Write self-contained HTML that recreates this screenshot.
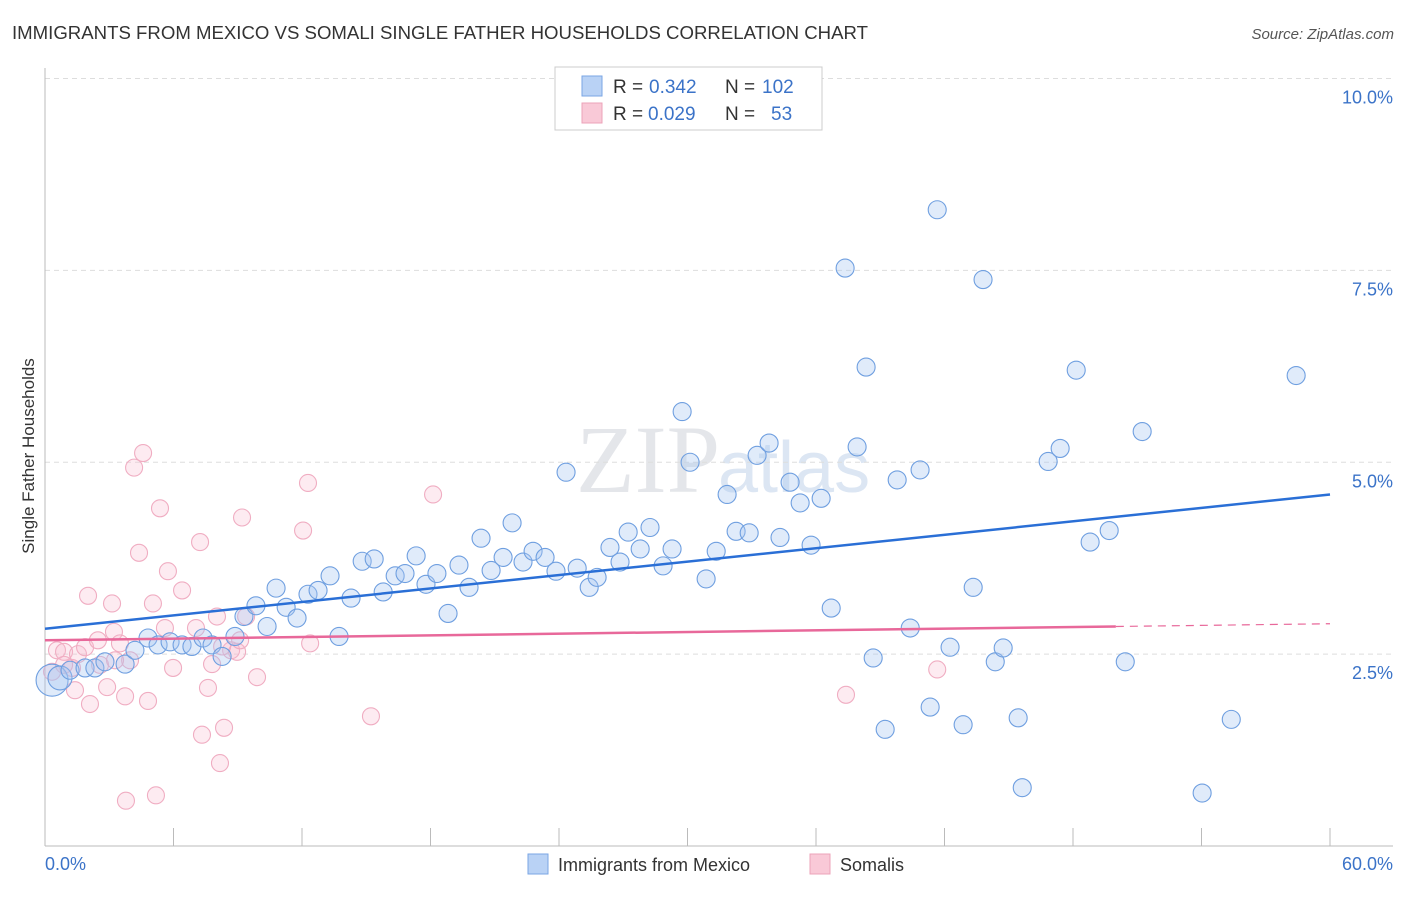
<!DOCTYPE html>
<html><head><meta charset="utf-8"><style>
body{margin:0;background:#fff;font-family:"Liberation Sans",sans-serif;}
</style></head><body>
<svg id="chart" width="1406" height="892" xmlns="http://www.w3.org/2000/svg" font-family="Liberation Sans, sans-serif">
<text x="12" y="39" font-size="18" fill="#333" textLength="856" lengthAdjust="spacingAndGlyphs">IMMIGRANTS FROM MEXICO VS SOMALI SINGLE FATHER HOUSEHOLDS CORRELATION CHART</text>
<text x="1394" y="39" font-size="15" fill="#555" font-style="italic" text-anchor="end">Source: ZipAtlas.com</text>
<text x="34" y="456" font-size="17" fill="#333" text-anchor="middle" transform="rotate(-90 34 456)">Single Father Households</text>
<text x="720" y="492" font-size="96" fill="#e4e6ea" text-anchor="end" font-family="Liberation Serif, serif">ZIP</text>
<text x="718" y="492" font-size="72" fill="#dce6f3">atlas</text>
<g id="grid"></g><g id="pts"></g><g id="lines"></g>
<g>
<rect x="555" y="67" width="267" height="63" fill="#fff" stroke="#ccc"/>
<rect x="582" y="76" width="20" height="20" fill="#b9d2f5" stroke="#7aa6e4"/>
<text x="613" y="93" font-size="19" fill="#333">R =</text>
<text x="649" y="93" font-size="19" fill="#3b73c8">0.342</text>
<text x="725" y="93" font-size="19" fill="#333">N =</text>
<text x="762" y="93" font-size="19" fill="#3b73c8">102</text>
<rect x="582" y="103" width="20" height="20" fill="#f9c9d7" stroke="#eca3b9"/>
<text x="613" y="120" font-size="19" fill="#333">R =</text>
<text x="648" y="120" font-size="19" fill="#3b73c8">0.029</text>
<text x="725" y="120" font-size="19" fill="#333">N =</text>
<text x="771" y="120" font-size="19" fill="#3b73c8">53</text>
</g>
<g>
<rect x="528" y="854" width="20" height="20" fill="#b9d2f5" stroke="#7aa6e4"/>
<text x="558" y="871" font-size="18" fill="#333">Immigrants from Mexico</text>
<rect x="810" y="854" width="20" height="20" fill="#f9c9d7" stroke="#eca3b9"/>
<text x="840" y="871" font-size="18" fill="#333">Somalis</text>
</g>
</svg>
<script>
const yTicks=[2.5,5,7.5,10];
const yTickLabels=["2.5%","5.0%","7.5%","10.0%"];
const xTickLabels=["0.0%","60.0%"];
const blueX=[0.33,0.7,1.17,1.87,2.33,2.8,3.74,4.2,4.81,5.28,5.84,6.4,6.86,7.38,7.8,8.27,8.87,9.29,9.85,10.37,10.79,11.26,11.77,12.28,12.75,13.31,13.73,14.29,14.81,15.37,15.79,16.35,16.81,17.33,17.79,18.3,18.82,19.33,19.8,20.36,20.83,21.39,21.81,22.32,22.79,23.35,23.86,24.33,24.85,25.41,25.78,26.38,26.85,27.23,27.79,28.25,28.86,29.28,29.75,30.12,30.87,31.34,31.85,32.27,32.88,33.25,33.81,34.32,34.79,35.26,35.77,36.24,36.71,37.36,37.92,38.34,38.67,39.23,39.79,40.4,40.86,41.33,41.66,42.26,42.87,43.34,43.8,44.37,44.74,45.44,45.63,46.84,47.4,48.15,48.8,49.69,50.44,51.23,54.03,55.39,58.42];
const blueY=[2.16,2.19,2.29,2.32,2.32,2.4,2.37,2.55,2.71,2.62,2.66,2.62,2.6,2.71,2.62,2.47,2.73,2.99,3.13,2.86,3.36,3.11,2.97,3.28,3.33,3.52,2.73,3.23,3.71,3.74,3.31,3.52,3.55,3.78,3.41,3.55,3.03,3.66,3.37,4.01,3.59,3.76,4.21,3.7,3.84,3.76,3.58,4.87,3.62,3.37,3.5,3.89,3.7,4.09,3.87,4.15,3.65,3.87,5.66,5.0,3.48,3.84,4.58,4.1,4.08,5.09,5.25,4.02,4.74,4.47,3.92,4.53,3.1,7.53,5.2,6.24,2.45,1.52,4.77,2.84,4.9,1.81,8.29,2.59,1.58,3.37,7.38,2.4,2.58,1.67,0.76,5.01,5.18,6.2,3.96,4.11,2.4,5.4,0.69,1.65,6.13];
const pinkX=[0.33,0.56,0.89,1.26,1.54,1.87,2.1,2.01,2.47,2.9,3.13,3.22,3.5,3.74,3.78,3.97,4.16,4.39,4.58,4.81,5.04,5.18,5.37,5.6,5.74,5.98,6.4,7.05,7.24,7.33,7.61,7.8,8.03,8.17,8.36,8.69,8.97,9.2,9.39,9.9,12.05,12.28,12.38,15.22,18.12,37.4,41.66,0.89,1.4,2.57,3.27,8.27,9.11];
const pinkY=[2.27,2.55,2.53,2.32,2.5,2.59,1.85,3.26,2.68,2.07,3.16,2.79,2.64,1.95,0.59,2.42,4.93,3.82,5.12,1.89,3.16,0.66,4.4,2.84,3.58,2.32,3.33,2.84,3.96,1.45,2.06,2.37,2.99,1.08,1.54,2.55,2.53,4.28,2.99,2.2,4.11,4.73,2.64,1.69,4.58,1.97,2.3,2.36,2.03,2.36,2.42,2.6,2.68];
const blueTrend=[2.83,4.58];
const pinkTrend=[2.68,2.86];
const X0=45,X1=1330,YB=846,PX=76.75;
const sx=v=>X0+(X1-X0)*v/60, sy=v=>YB-v*PX;
const NS="http://www.w3.org/2000/svg";
function mk(tag,attrs,parent){const e=document.createElementNS(NS,tag);for(const k in attrs)e.setAttribute(k,attrs[k]);parent.appendChild(e);return e;}
const grid=document.getElementById('grid');
yTicks.forEach((t,i)=>{
 const l=mk('line',{x1:X0,x2:1393,y1:sy(t),y2:sy(t),stroke:'#ddd','stroke-dasharray':'5,4'},grid);
 
 
 const tx=mk('text',{x:1393,y:sy(t)+25,'font-size':18,fill:'#3b73c8','text-anchor':'end'},grid);
 tx.textContent=yTickLabels[i];
 
 
});
const ax=mk('line',{x1:X0,x2:1393,y1:YB,y2:YB,stroke:'#bbb'},grid);


const ay=mk('line',{x1:X0,x2:X0,y1:68,y2:YB,stroke:'#bbb'},grid);


for(let i=1;i<=10;i++){const tk=mk('line',{x1:sx(i*6),x2:sx(i*6),y1:YB-18,y2:YB,stroke:'#bbb'},grid);
 
 }
const xl0=mk('text',{x:45,y:870,'font-size':18,fill:'#3b73c8'},grid);xl0.textContent=xTickLabels[0];


const xl1=mk('text',{x:1393,y:870,'font-size':18,fill:'#3b73c8','text-anchor':'end'},grid);xl1.textContent=xTickLabels[1];


const pts=document.getElementById('pts');
pinkX.forEach((x,i)=>{const c=mk('circle',{cx:sx(x),cy:sy(pinkY[i]),r:8.5,fill:'rgba(248,190,208,0.3)',stroke:'#f0adc2','stroke-width':1.1},pts);
 
 });
blueX.forEach((x,i)=>{const c=mk('circle',{cx:sx(x),cy:sy(blueY[i]),r:i==0?16:(i==1?12:9),fill:'rgba(165,198,242,0.35)',stroke:'#6f9fe0','stroke-width':1.1},pts);
 
 });
const lines=document.getElementById('lines');
const bl=mk('line',{x1:sx(0),y1:sy(blueTrend[0]),x2:sx(60),y2:sy(blueTrend[1]),stroke:'#2a6fd6','stroke-width':2.5},lines);


const pEnd=pinkTrend[0]+(pinkTrend[1]-pinkTrend[0])*60/50;
const pl=mk('line',{x1:sx(0),y1:sy(pinkTrend[0]),x2:sx(50),y2:sy(pinkTrend[1]),stroke:'#e8689a','stroke-width':2.5},lines);


const pd=mk('line',{x1:sx(50),y1:sy(pinkTrend[1]),x2:sx(60),y2:sy(pEnd),stroke:'#e8689a','stroke-width':1.2,'stroke-dasharray':'8,6'},lines);


</script>
</body></html>
